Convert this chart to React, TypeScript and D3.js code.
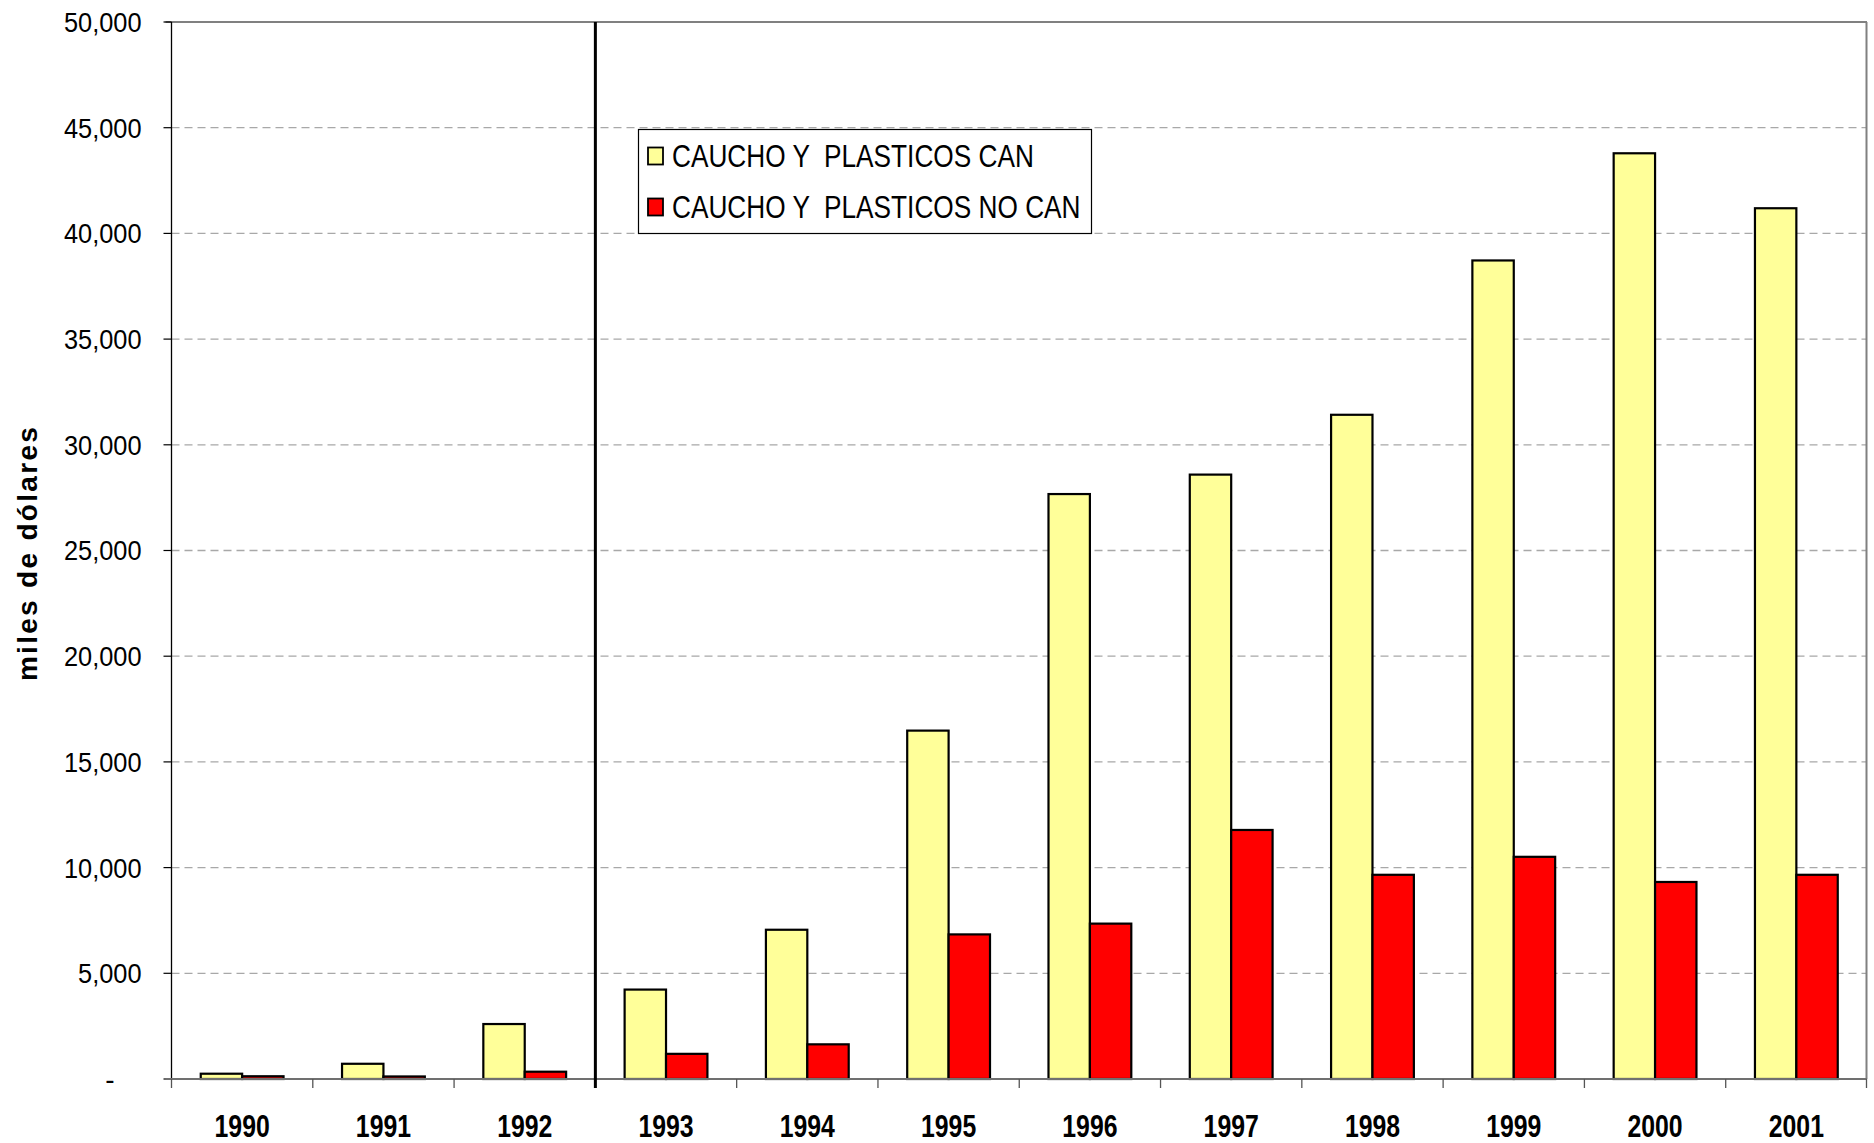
import React from "react";
import * as d3 from "d3";

const years = ["1990","1991","1992","1993","1994","1995","1996","1997","1998","1999","2000","2001"];
const seriesNames = ["CAUCHO Y  PLASTICOS CAN", "CAUCHO Y  PLASTICOS NO CAN"];
const canValues = [250, 720, 2600, 4230, 7060, 16480, 27670, 28590, 31420, 38720, 43790, 41190];
const noCanValues = [130, 120, 345, 1190, 1640, 6840, 7350, 11780, 9660, 10510, 9320, 9660];
const seriesColors = ["#FFFF99", "#FF0000"];
const yTicks = [0, 5000, 10000, 15000, 20000, 25000, 30000, 35000, 40000, 45000, 50000];
const separatorAfter = "1992";

const W = 1874, H = 1143;
const left = 171.5, right = 1867, top = 22, bottom = 1079;
const FONT = "'Liberation Sans', Arial, sans-serif";

export default function App() {
  const x0 = d3.scaleBand().domain(years).range([left, right]).padding(0);
  const bw = x0.bandwidth();
  const x1 = d3.scaleBand().domain(["0", "1"]).range([bw * 0.207, bw * 0.793]).padding(0);
  const y = d3.scaleLinear().domain([0, 50000]).range([bottom, top]);
  const fmt = d3.format(",");
  const data = [canValues, noCanValues];
  const sepX = (x0(separatorAfter) as number) + bw;

  return (
    <svg width={W} height={H} style={{ position: "absolute", left: 0, top: 0, background: "#fff" }} fontFamily={FONT}>
      <rect x={0} y={0} width={W} height={H} fill="#fff" />
      {yTicks.filter(t => t > 0 && t < 50000).map(t => (
        <line key={"g" + t} x1={left} x2={right} y1={y(t)} y2={y(t)} stroke="#a8a8a8" strokeWidth={1.3} strokeDasharray="8,5" />
      ))}
      <line x1={left - 6} x2={right} y1={top} y2={top} stroke="#808080" strokeWidth={2} />
      <line x1={right - 0.5} x2={right - 0.5} y1={top} y2={bottom} stroke="#808080" strokeWidth={2} />
      {years.map((yr, i) => (
        <g key={yr} transform={`translate(${x0(yr)},0)`}>
          {data.map((vals, s) => (
            <rect key={s} x={x1(String(s))} width={x1.bandwidth()} y={y(vals[i])} height={bottom - y(vals[i])}
              fill={seriesColors[s]} stroke="#000" strokeWidth={2.2} />
          ))}
        </g>
      ))}
      <line x1={left} x2={left} y1={top} y2={bottom} stroke="#000" strokeWidth={1.3} />
      {yTicks.map(t => (
        <g key={"t" + t}>
          <line x1={left - 8} x2={left} y1={y(t)} y2={y(t)} stroke="#000" strokeWidth={1.2} />
          {t === 0 ? (
            <text x={110} y={y(t)} dy="0.35em" textAnchor="middle" fontSize={28} fill="#000">-</text>
          ) : (
            <text transform={`translate(141.5,${y(t)}) scale(0.89,1)`} dy="0.35em" textAnchor="end" fontSize={28.5} fill="#000">{fmt(t)}</text>
          )}
        </g>
      ))}
      <line x1={left - 6} x2={right} y1={bottom} y2={bottom} stroke="#707070" strokeWidth={2} />
      {years.map(yr => (
        <line key={"xt" + yr} x1={(x0(yr) as number)} x2={(x0(yr) as number)} y1={bottom} y2={bottom + 9} stroke="#555" strokeWidth={1.3} />
      ))}
      <line x1={right - 0.5} x2={right - 0.5} y1={bottom} y2={bottom + 9} stroke="#555" strokeWidth={1.3} />
      {years.map(yr => (
        <text key={"xl" + yr} transform={`translate(${(x0(yr) as number) + bw / 2},1126) scale(0.8,1)`} dy="0.35em" textAnchor="middle"
          fontSize={31} fontWeight="bold" fill="#000">{yr}</text>
      ))}
      <line x1={sepX} x2={sepX} y1={top} y2={bottom + 9} stroke="#000" strokeWidth={3} />
      <text transform={`translate(27,553) rotate(-90)`} dy="0.35em" textAnchor="middle" fontSize={28} fontWeight="bold" letterSpacing={2.3} fill="#000">miles de dólares</text>
      <rect x={638.5} y={129.5} width={453} height={104} fill="#fff" stroke="#000" strokeWidth={1.2} />
      {seriesNames.map((n, s) => (
        <g key={"l" + s} transform={`translate(648,${156 + s * 51})`}>
          <rect x={0} y={-8.5} width={15} height={17} fill={seriesColors[s]} stroke="#000" strokeWidth={1.8} />
          <text transform="translate(24,0) scale(0.86,1)" dy="0.35em" fontSize={30.5} fill="#000" style={{ whiteSpace: "pre" }}>{n}</text>
        </g>
      ))}
    </svg>
  );
}
